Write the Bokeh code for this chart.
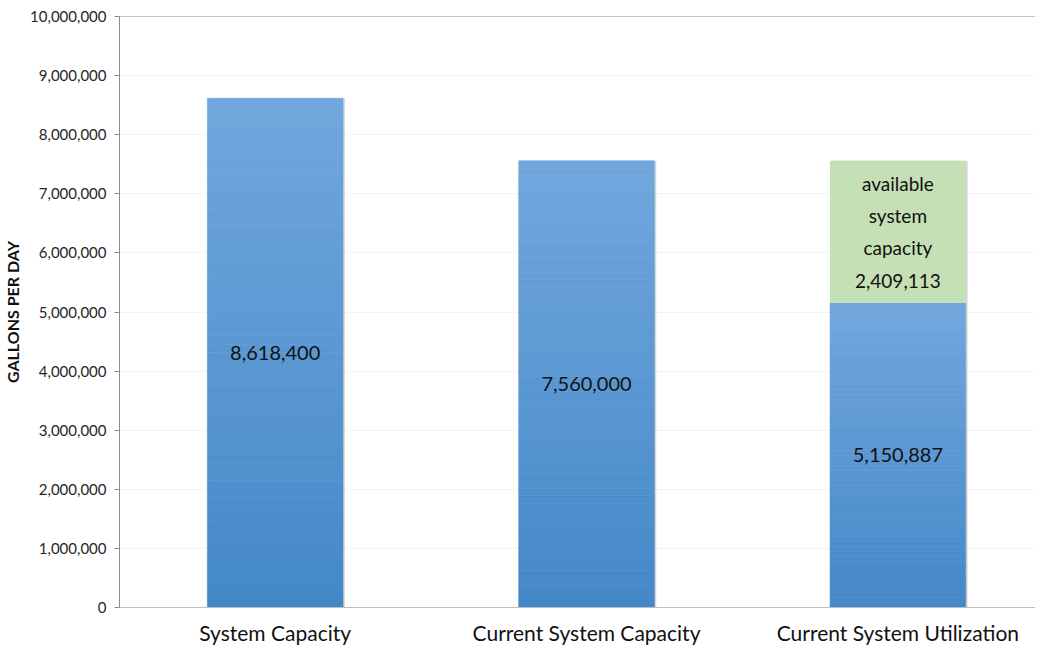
import numpy as np
from bokeh.plotting import figure
from bokeh.models import Range1d, FixedTicker, NumeralTickFormatter, Span, ColumnDataSource
from bokeh.core.properties import value
from bokeh.embed import file_html
from bokeh.resources import INLINE

categories = ["System Capacity", "Current System Capacity", "Current System Utilization"]
used = [8618400, 7560000, 5150887]
available = [0, 0, 2409113]
bar_labels = ["8,618,400", "7,560,000", "5,150,887"]
avail_label = "available\nsystem\ncapacity\n2,409,113"
y_ticks = list(range(0, 10000001, 1000000))

FONT = "Lato"

p = figure(width=1035, height=647, output_backend="svg", toolbar_location=None,
           x_range=Range1d(-0.5, 2.442), y_range=Range1d(0, 10000000),
           min_border_left=117, min_border_right=0, min_border_top=16, min_border_bottom=20)

def lerp(c1, c2, t):
    return "#%02x%02x%02x" % tuple(int(round(a + (b - a) * t)) for a, b in zip(c1, c2))

top_c = (0x71, 0xa7, 0xdd)
bot_c = (0x44, 0x88, 0xc8)
n = 60
xs, bots, tops, cols = [], [], [], []
for i, v in enumerate(used):
    edges = np.linspace(0, v, n + 1)
    for k in range(n):
        xs.append(i)
        bots.append(edges[k])
        tops.append(edges[k + 1])
        cols.append(lerp(bot_c, top_c, (k + 0.5) / n))
src = ColumnDataSource(dict(x=xs, bottom=bots, top=tops, color=cols))
bw = 0.436
# subtle shadow
p.vbar(x=[i + 0.006 for i in range(3)], bottom=0,
       top=[u + a for u, a in zip(used, available)], width=bw,
       fill_color="#b0b0b0", line_color=None, fill_alpha=0.5)
p.vbar(x="x", bottom="bottom", top="top", width=bw, fill_color="color", line_color="color",
       line_width=0.5, source=src)
p.vbar(x=[2], bottom=[used[2]], top=[used[2] + available[2]], width=bw,
       fill_color="#c5e0b4", line_color=None)

p.text(x=[0, 1, 2], y=[u / 2 for u in used], text=bar_labels,
       text_align="center", text_baseline="middle", text_font=value(FONT),
       text_font_size="20px", text_color="#111111")
p.text(x=[2], y=[used[2] + available[2] / 2], text=[avail_label],
       text_align="center", text_baseline="middle", text_font=value(FONT),
       text_font_size="19px", text_color="#111111", text_line_height=1.4)

p.add_layout(Span(location=10000000, dimension="width", line_color="#8c8c8c", line_width=1))

p.xaxis.ticker = FixedTicker(ticks=[0, 1, 2])
p.xaxis.major_label_overrides = {i: c for i, c in enumerate(categories)}
p.xaxis.major_tick_line_color = None
p.xaxis.major_tick_in = 0
p.xaxis.major_tick_out = 0
p.xaxis.minor_tick_line_color = None
p.xaxis.minor_tick_in = 0
p.xaxis.minor_tick_out = 0
p.xaxis.axis_line_color = "#bfbfbf"
p.xaxis.major_label_text_font = FONT
p.xaxis.major_label_text_font_size = "21px"
p.xaxis.major_label_text_color = "#111111"
p.xaxis.major_label_standoff = 12

p.yaxis.ticker = FixedTicker(ticks=y_ticks)
p.yaxis.formatter = NumeralTickFormatter(format="0,0")
p.yaxis.axis_line_color = "#8c8c8c"
p.yaxis.major_tick_line_color = "#8c8c8c"
p.yaxis.major_tick_in = 0
p.yaxis.major_tick_out = 5
p.yaxis.minor_tick_line_color = None
p.yaxis.major_label_text_font = FONT
p.yaxis.major_label_text_font_size = "15px"
p.yaxis.major_label_text_color = "#262626"
p.yaxis.major_label_standoff = 8
p.yaxis.axis_label = "GALLONS PER DAY"
p.yaxis.axis_label_text_font = FONT
p.yaxis.axis_label_text_font_style = "bold"
p.yaxis.axis_label_text_font_size = "16px"
p.yaxis.axis_label_text_color = "#111111"
p.yaxis.axis_label_standoff = 5

p.xgrid.grid_line_color = None
p.ygrid.grid_line_color = "#f4f4f4"
p.outline_line_color = None

open("out.html", "w").write(file_html(p, INLINE))
